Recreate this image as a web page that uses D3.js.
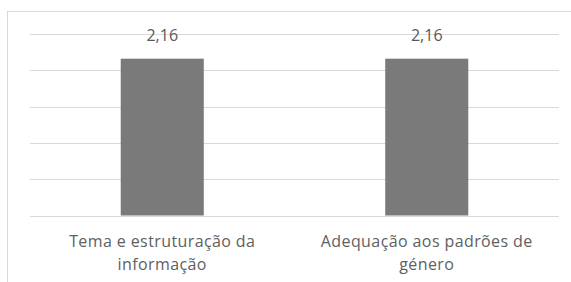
<!DOCTYPE html>
<html>
<head>
<meta charset="utf-8">
<script src="https://cdn.jsdelivr.net/npm/d3@7"></script>
<style>
  html, body { margin: 0; padding: 0; background: #fff; }
  svg { display: block; }
</style>
</head>
<body>
<svg id="chart" width="571" height="282"></svg>
<script>
const categories = [["Tema e estruturação da", "informação"], ["Adequação aos padrões de", "género"]];
const values = [2.16, 2.16];
const valueLabels = ["2,16", "2,16"];
const gridTicks = [0, 0.5, 1, 1.5, 2, 2.5];

const svg = d3.select("#chart");
const plot = { left: 30, right: 559, top: 34, bottom: 215.5 };

// chart frame
svg.append("rect")
  .attr("x", 7.5).attr("y", 11.5)
  .attr("width", 700).attr("height", 400)
  .attr("fill", "#fff")
  .attr("stroke", "#d9d9d9").attr("stroke-width", 1);

const x = d3.scaleBand()
  .domain(d3.range(categories.length))
  .range([plot.left, plot.right])
  .paddingInner(0.686).paddingOuter(0.343);

const y = d3.scaleLinear().domain([0, 2.5]).range([plot.bottom, plot.top]);

// gridlines
svg.append("g").selectAll("line")
  .data(gridTicks)
  .join("line")
  .attr("x1", plot.left).attr("x2", plot.right)
  .attr("y1", d => Math.round(y(d)) + 0.5)
  .attr("y2", d => Math.round(y(d)) + 0.5)
  .attr("stroke", "#d9d9d9").attr("stroke-width", 1);

// bars
svg.append("g").selectAll("rect")
  .data(values)
  .join("rect")
  .attr("x", (d, i) => x(i))
  .attr("width", x.bandwidth())
  .attr("y", d => y(d))
  .attr("height", d => y(0) - y(d))
  .attr("fill", "#7a7a7a");

// value labels
svg.append("g").selectAll("text")
  .data(values)
  .join("text")
  .attr("x", (d, i) => x(i) + x.bandwidth() / 2)
  .attr("y", d => y(d) - 17.5)
  .attr("text-anchor", "middle")
  .attr("font-family", "'Open Sans', sans-serif")
  .attr("font-size", 16)
  .attr("fill", "#595959")
  .text((d, i) => valueLabels[i]);

// category labels
const cat = svg.append("g").selectAll("text")
  .data(categories)
  .join("text")
  .attr("text-anchor", "middle")
  .attr("font-family", "'Open Sans', sans-serif")
  .attr("font-size", 16)
  .attr("letter-spacing", 0.4)
  .attr("fill", "#606060");
cat.each(function(lines, i) {
  const t = d3.select(this);
  lines.forEach((ln, k) => {
    t.append("tspan")
      .attr("x", x(i) + x.bandwidth() / 2)
      .attr("y", 247 + k * 23)
      .text(ln);
  });
});
</script>
</body>
</html>
